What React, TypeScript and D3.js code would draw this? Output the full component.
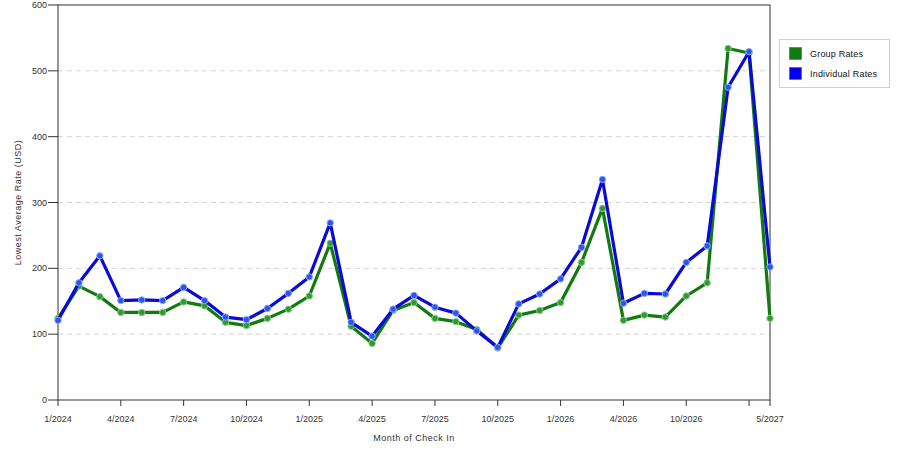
import React, { useMemo } from 'react';
import * as d3 from 'd3';

const months = [
  '1/2024', '2/2024', '3/2024', '4/2024', '5/2024', '6/2024', '7/2024', '8/2024', '9/2024',
  '10/2024', '11/2024', '12/2024', '1/2025', '2/2025', '3/2025', '4/2025', '5/2025', '6/2025',
  '7/2025', '8/2025', '9/2025', '10/2025', '11/2025', '12/2025', '1/2026', '2/2026', '3/2026',
  '4/2026', '6/2026', '8/2026', '10/2026', '11/2026', '12/2026', '1/2027', '5/2027',
];

const groupRates = [
  124, 173, 157, 133, 133, 133, 149, 143, 118, 113, 124, 138, 158, 238, 112, 86, 136, 148,
  124, 119, 107, 79, 129, 136, 148, 209, 291, 121, 129, 126, 158, 178, 534, 527, 124,
];

const individualRates = [
  121, 178, 219, 151, 152, 151, 171, 151, 126, 122, 139, 162, 187, 269, 118, 97, 138, 159,
  141, 132, 105, 80, 146, 161, 184, 232, 335, 147, 162, 161, 209, 234, 475, 529, 202,
];

const labelledMonths = ['1/2024', '4/2024', '7/2024', '10/2024', '1/2025', '4/2025', '7/2025', '10/2025', '1/2026', '4/2026', '10/2026', '5/2027'];
const yTicks = [0, 100, 200, 300, 400, 500, 600];

const series = [
  { name: 'Group Rates', values: groupRates, color: '#117a11', dot: '#2f9a2f', halo: '#8fc78f', swatch: '#117a11' },
  { name: 'Individual Rates', values: individualRates, color: '#0a0ad8', dot: '#2b55ee', halo: '#8fa8f5', swatch: '#0000f0' },
];

const App: React.FC = () => {
  const width = 900;
  const height = 450;
  const left = 58;
  const right = 770;
  const top = 5;
  const bottom = 400;
  const font = '"Liberation Sans", Arial, sans-serif';

  const xScale = useMemo(() => d3.scalePoint<string>().domain(months).range([left, right]), []);
  const yScale = useMemo(() => d3.scaleLinear().domain([0, 600]).range([bottom, top]), []);

  const line = d3.line<number>()
    .x((_, i) => xScale(months[i]) as number)
    .y(d => yScale(d));

  return (
    <svg width={width} height={height} style={{ position: 'absolute', left: 0, top: 0, background: '#fff' }}>
      {/* grid */}
      {yTicks.filter(t => t > 0 && t < 600).map(t => (
        <line key={`g-${t}`} x1={left} x2={right} y1={yScale(t)} y2={yScale(t)} stroke="#d4d4d4" strokeDasharray="5,4" />
      ))}

      {/* frame */}
      <rect x={left} y={top} width={right - left} height={bottom - top} fill="none" stroke="#333" strokeWidth="1" />

      {/* y axis ticks */}
      {yTicks.map(t => (
        <g key={`y-${t}`}>
          <line x1={left - 10} x2={left} y1={yScale(t)} y2={yScale(t)} stroke="#333" />
          <text x={left - 11} y={yScale(t) + 3} textAnchor="end" fontSize="9" fontFamily={font} fill="#333">{t}</text>
        </g>
      ))}

      {/* x axis ticks */}
      {months.map((m, i) => (i % 3 === 0 || i === months.length - 1) ? (
        <line key={`xt-${m}`} x1={xScale(m)} x2={xScale(m)} y1={bottom} y2={bottom + 6} stroke="#333" />
      ) : null)}
      {labelledMonths.map(m => (
        <text key={`xl-${m}`} x={xScale(m)} y={bottom + 22} textAnchor="middle" fontSize="9" fontFamily={font} fill="#333">{m}</text>
      ))}

      <text x={(left + right) / 2} y={441} textAnchor="middle" fontSize="9" fontFamily={font} fill="#333" letterSpacing="0.5">Month of Check In</text>
      <text transform={`translate(21, ${(top + bottom) / 2}) rotate(-90)`} textAnchor="middle" fontSize="9" fontFamily={font} fill="#333" letterSpacing="0.5">Lowest Average Rate (USD)</text>

      {/* series */}
      {series.map(s => (
        <g key={s.name}>
          <path d={line(s.values) || ''} fill="none" stroke={s.color} strokeWidth="3.2" strokeLinejoin="round" />
          {s.values.map((v, i) => (
            <circle key={i} cx={xScale(months[i])} cy={yScale(v)} r="3.2" fill={s.dot} stroke={s.halo} strokeWidth="1" />
          ))}
        </g>
      ))}

      {/* legend */}
      <rect x={779.5} y={39.5} width={110} height={48} fill="#fff" stroke="#d0d0d0" />
      {series.map((s, i) => (
        <g key={`lg-${s.name}`}>
          <rect x={789.5} y={47.5 + i * 20} width={12} height={12} fill={s.swatch} stroke="#555" strokeWidth="0.5" />
          <text x={810} y={57 + i * 20} fontSize="9" fontFamily={font} fill="#111" letterSpacing="0.2">{s.name}</text>
        </g>
      ))}
    </svg>
  );
};

export default App;
